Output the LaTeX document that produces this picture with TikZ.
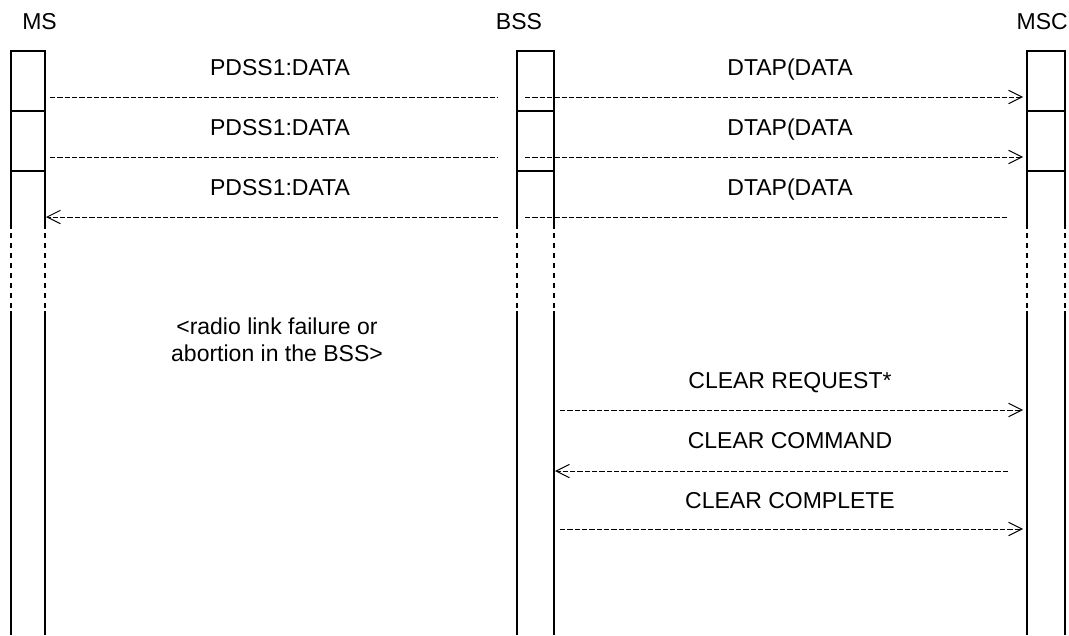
\documentclass[tikz,border=0pt]{standalone}
\usepackage{fontspec}
\setmainfont{Liberation Sans}
\usetikzlibrary{arrows.meta}

\begin{document}
\begin{tikzpicture}[x=0.75pt, y=-0.75pt,
    lifeline/.style={line width=1.5pt},
    gapline/.style={line width=1.5pt, dash pattern=on 3.75pt off 3.75pt},
    msg/.style={line width=0.75pt, dash pattern=on 4pt off 1.5pt},
    toright/.style={-{Straight Barb[length=10pt,width=10pt,line width=0.75pt].}},
    toleft/.style={-{Straight Barb[length=0.01pt,width=0.01pt,line width=0.01pt,color=white,sep=6pt]Straight Barb[length=10pt,width=10pt,line width=0.75pt]}},
    msgtext/.style={font=\fontsize{17.25}{20}\selectfont, inner sep=0pt, anchor=base}]
    \useasboundingbox (0,0) rectangle (1069,635);

    % Kopf
    \node[msgtext, anchor=base west] (ms) at (22,30) {MS};
    \node[msgtext] (bss) at (519,30) {BSS};
    \node[msgtext, anchor=base east] (msc) at (1068,30) {MSC};

    % Lebenslinien mit Kästen
    \draw[lifeline] (11,229) -- (11,51) -- (45,51) -- (45,229);
    \draw[lifeline] (11,111) -- (45,111);
    \draw[lifeline] (11,171) -- (45,171);
    \draw[lifeline] (517,229) -- (517,51) -- (554,51) -- (554,229);
    \draw[lifeline] (517,111) -- (554,111);
    \draw[lifeline] (517,171) -- (554,171);
    \draw[lifeline] (1027,229) -- (1027,51) -- (1065,51) -- (1065,229);
    \draw[lifeline] (1027,111) -- (1065,111);
    \draw[lifeline] (1027,171) -- (1065,171);

    % Unterbrechung
    \draw[gapline] (11,233) -- (11,311);
    \draw[gapline] (45,233) -- (45,311);
    \draw[gapline] (517,233) -- (517,311);
    \draw[gapline] (554,233) -- (554,311);
    \draw[gapline] (1027,233) -- (1027,311);
    \draw[gapline] (1065,233) -- (1065,311);

    \draw[lifeline] (11,311) -- (11,635);
    \draw[lifeline] (45,311) -- (45,635);
    \draw[lifeline] (517,311) -- (517,635);
    \draw[lifeline] (554,311) -- (554,635);
    \draw[lifeline] (1027,311) -- (1027,635);
    \draw[lifeline] (1065,311) -- (1065,635);

    % Endpunkte
    \coordinate (ms1) at (50,97);
    \coordinate (bssa1) at (498,97);
    \coordinate (bssb1) at (525,97);
    \coordinate (msc1) at (1023,97);
    \coordinate (ms2) at (50,157);
    \coordinate (bssa2) at (498,157);
    \coordinate (bssb2) at (525,157);
    \coordinate (msc2) at (1023,157);
    \coordinate (ms3) at (46,217);
    \coordinate (bssa3) at (498,217);
    \coordinate (bssb3) at (525,217);
    \coordinate (msc3) at (1008,217);
    \coordinate (bss4) at (560,410);
    \coordinate (msc4) at (1023,410);
    \coordinate (bss5) at (555,471);
    \coordinate (msc5) at (1008,471);
    \coordinate (bss6) at (560,529);
    \coordinate (msc6) at (1023,529);

    % Meldungen
    \node[msgtext] (pdss1) at (280,75) {PDSS1:DATA};
    \node[msgtext] (dtap1) at (790,75) {DTAP(DATA};
    \draw[msg] (ms1) -- (bssa1);
    \draw[msg, toright] (bssb1) -- (msc1);

    \node[msgtext] (pdss2) at (280,135) {PDSS1:DATA};
    \node[msgtext] (dtap2) at (790,135) {DTAP(DATA};
    \draw[msg] (ms2) -- (bssa2);
    \draw[msg, toright] (bssb2) -- (msc2);

    \node[msgtext] (pdss3) at (280,195) {PDSS1:DATA};
    \node[msgtext] (dtap3) at (790,195) {DTAP(DATA};
    \draw[msg, toleft] (bssa3) -- (ms3);
    \draw[msg] (bssb3) -- (msc3);

    \node[msgtext, align=center] (fail) at (277,361) {<radio link failure or\\abortion in the BSS>};

    \node[msgtext] (clrreq) at (790,388) {CLEAR REQUEST*};
    \draw[msg, toright] (bss4) -- (msc4);
    \node[msgtext] (clrcmd) at (790,448) {CLEAR COMMAND};
    \draw[msg, toleft] (msc5) -- (bss5);
    \node[msgtext] (clrcmp) at (790,508) {CLEAR COMPLETE};
    \draw[msg, toright] (bss6) -- (msc6);
\end{tikzpicture}
\end{document}
